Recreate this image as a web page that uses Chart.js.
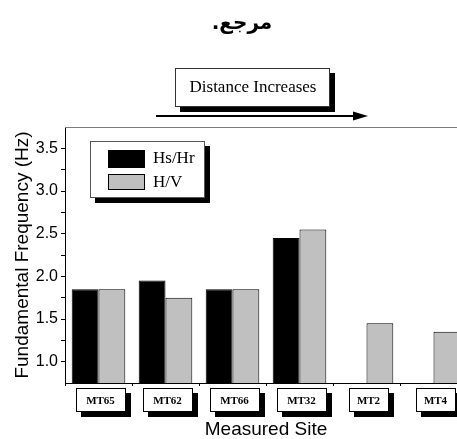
<!DOCTYPE html>
<html>
<head>
<meta charset="utf-8">
<script src="https://cdn.jsdelivr.net/npm/chart.js@4/dist/chart.umd.min.js"></script>
<style>
  html, body { margin: 0; padding: 0; background: #fff; overflow: hidden; }
  #wrap { width: 457px; height: 439px; overflow: hidden; }
  canvas { display: block; }
</style>
</head>
<body>
<div id="wrap"><canvas id="c" width="470" height="439"></canvas></div>
<script>
// Measured sites, ordered by distance
const sites = ['MT65', 'MT62', 'MT66', 'MT32', 'MT2', 'MT4'];
// Fundamental frequency (Hz) from spectral ratios
const hsHr = [1.85, 1.95, 1.85, 2.45, null, null];
const hv   = [1.85, 1.75, 1.85, 2.55, 1.45, 1.35];
// Y axis ticks
const yMajorTicks = [1.0, 1.5, 2.0, 2.5, 3.0, 3.5];
const yMinorTicks = [1.25, 1.75, 2.25, 2.75, 3.25];

const chartTitle = 'مرجع.';
const noteText = 'Distance Increases';

function shadowBox(ctx, x, y, w, h, off, border) {
  ctx.save();
  ctx.fillStyle = '#000';
  ctx.fillRect(x + off, y + off, w, h);
  ctx.fillStyle = '#fff';
  ctx.fillRect(x, y, w, h);
  ctx.strokeStyle = border || '#000';
  ctx.lineWidth = 1;
  ctx.strokeRect(x + 0.5, y + 0.5, w - 1, h - 1);
  ctx.restore();
}

const decorations = {
  id: 'decorations',
  afterDraw(chart) {
    const ctx = chart.ctx;
    const area = chart.chartArea;
    const xs = chart.scales.x;

    // frame line along the top of the plot
    ctx.save();
    ctx.strokeStyle = '#7a7a7a';
    ctx.lineWidth = 1;
    ctx.beginPath();
    ctx.moveTo(area.left, area.top + 0.5);
    ctx.lineTo(area.right, area.top + 0.5);
    ctx.stroke();
    ctx.restore();

    // title
    ctx.save();
    ctx.direction = 'rtl';
    ctx.font = 'bold 20px "DejaVu Sans", sans-serif';
    ctx.fillStyle = '#000';
    ctx.textAlign = 'center';
    ctx.textBaseline = 'middle';
    ctx.fillText(chartTitle, 242, 24);
    ctx.restore();

    // annotation box with arrow
    shadowBox(ctx, 175, 68, 155, 39, 5, '#333');
    ctx.save();
    ctx.font = '17px "Liberation Serif", "Times New Roman", serif';
    ctx.fillStyle = '#000';
    ctx.textAlign = 'center';
    ctx.textBaseline = 'middle';
    ctx.fillText(noteText, 253, 88);
    ctx.strokeStyle = '#000';
    ctx.lineWidth = 2;
    ctx.beginPath();
    ctx.moveTo(156, 116);
    ctx.lineTo(356, 116);
    ctx.stroke();
    ctx.fillStyle = '#000';
    ctx.beginPath();
    ctx.moveTo(368, 116);
    ctx.lineTo(353, 111.5);
    ctx.lineTo(353, 120.5);
    ctx.closePath();
    ctx.fill();
    ctx.restore();

    // legend
    shadowBox(ctx, 90, 141, 115, 57, 5, '#555');
    ctx.save();
    ctx.font = '17px "Liberation Serif", "Times New Roman", serif';
    ctx.textBaseline = 'middle';
    ctx.textAlign = 'left';
    chart.data.datasets.forEach((ds, i) => {
      const y = 150 + i * 24;
      ctx.fillStyle = ds.backgroundColor;
      ctx.fillRect(108, y, 37, i === 0 ? 18 : 16);
      ctx.strokeStyle = '#000';
      ctx.lineWidth = 1;
      ctx.strokeRect(108.5, y + 0.5, 36, (i === 0 ? 18 : 16) - 1);
      ctx.fillStyle = '#000';
      ctx.fillText(ds.label, 153, y + 9);
    });
    ctx.restore();

    // boxed site labels under the axis
    ctx.save();
    ctx.font = 'bold 11px "Liberation Serif", "Times New Roman", serif';
    ctx.textAlign = 'center';
    ctx.textBaseline = 'middle';
    chart.data.labels.forEach((lab, i) => {
      const cx = xs.getPixelForValue(i) + 2;
      const w = lab.length >= 4 ? 50 : 40;
      const h = 24;
      const top = 388;
      shadowBox(ctx, Math.round(cx - w / 2), top, w, h, 5, '#000');
      ctx.fillStyle = '#000';
      ctx.fillText(lab, cx, top + h / 2 + 1);
    });
    ctx.restore();
  }
};

new Chart(document.getElementById('c'), {
  type: 'bar',
  data: {
    labels: sites,
    datasets: [
      { label: 'Hs/Hr', data: hsHr, backgroundColor: '#000000', borderColor: '#000000', borderWidth: 1 },
      { label: 'H/V', data: hv, backgroundColor: '#c0c0c0', borderColor: '#000000', borderWidth: 1 }
    ]
  },
  options: {
    responsive: false,
    animation: false,
    devicePixelRatio: 1,
    layout: { padding: { top: 127, right: 3, left: 0, bottom: 0 } },
    datasets: { bar: { categoryPercentage: 0.8, barPercentage: 1.0, borderSkipped: 'bottom' } },
    plugins: { legend: { display: false }, title: { display: false }, tooltip: { enabled: false } },
    scales: {
      x: {
        grid: { drawOnChartArea: false, drawTicks: true, tickLength: 3, color: '#000', offset: true },
        border: { display: true, color: '#000', width: 1 },
        ticks: { display: false },
        title: {
          display: true, text: 'Measured Site', color: '#000',
          font: { family: '"Liberation Sans", Arial, sans-serif', size: 19, lineHeight: 1 },
          padding: { top: 0, bottom: 0 }
        },
        afterFit(scale) { scale.height = 56; }
      },
      y: {
        min: 0.75,
        max: 3.75,
        grid: { drawOnChartArea: false, drawTicks: true, tickLength: 4, color: '#000' },
        border: { display: true, color: '#000', width: 1 },
        afterBuildTicks(scale) {
          scale.ticks = yMajorTicks.concat(yMinorTicks).sort((a, b) => a - b).map(v => ({ value: v }));
        },
        ticks: {
          color: '#000',
          padding: 3,
          font: { family: '"Liberation Sans", Arial, sans-serif', size: 16 },
          callback: (v) => yMajorTicks.includes(v) ? v.toFixed(1) : ''
        },
        title: {
          display: true, text: 'Fundamental Frequency (Hz)', color: '#000',
          font: { family: '"Liberation Sans", Arial, sans-serif', size: 19, lineHeight: 1 },
          padding: { top: 13, bottom: 0 }
        },
        afterFit(scale) { scale.width = 65; }
      }
    }
  },
  plugins: [decorations]
});
</script>
</body>
</html>
